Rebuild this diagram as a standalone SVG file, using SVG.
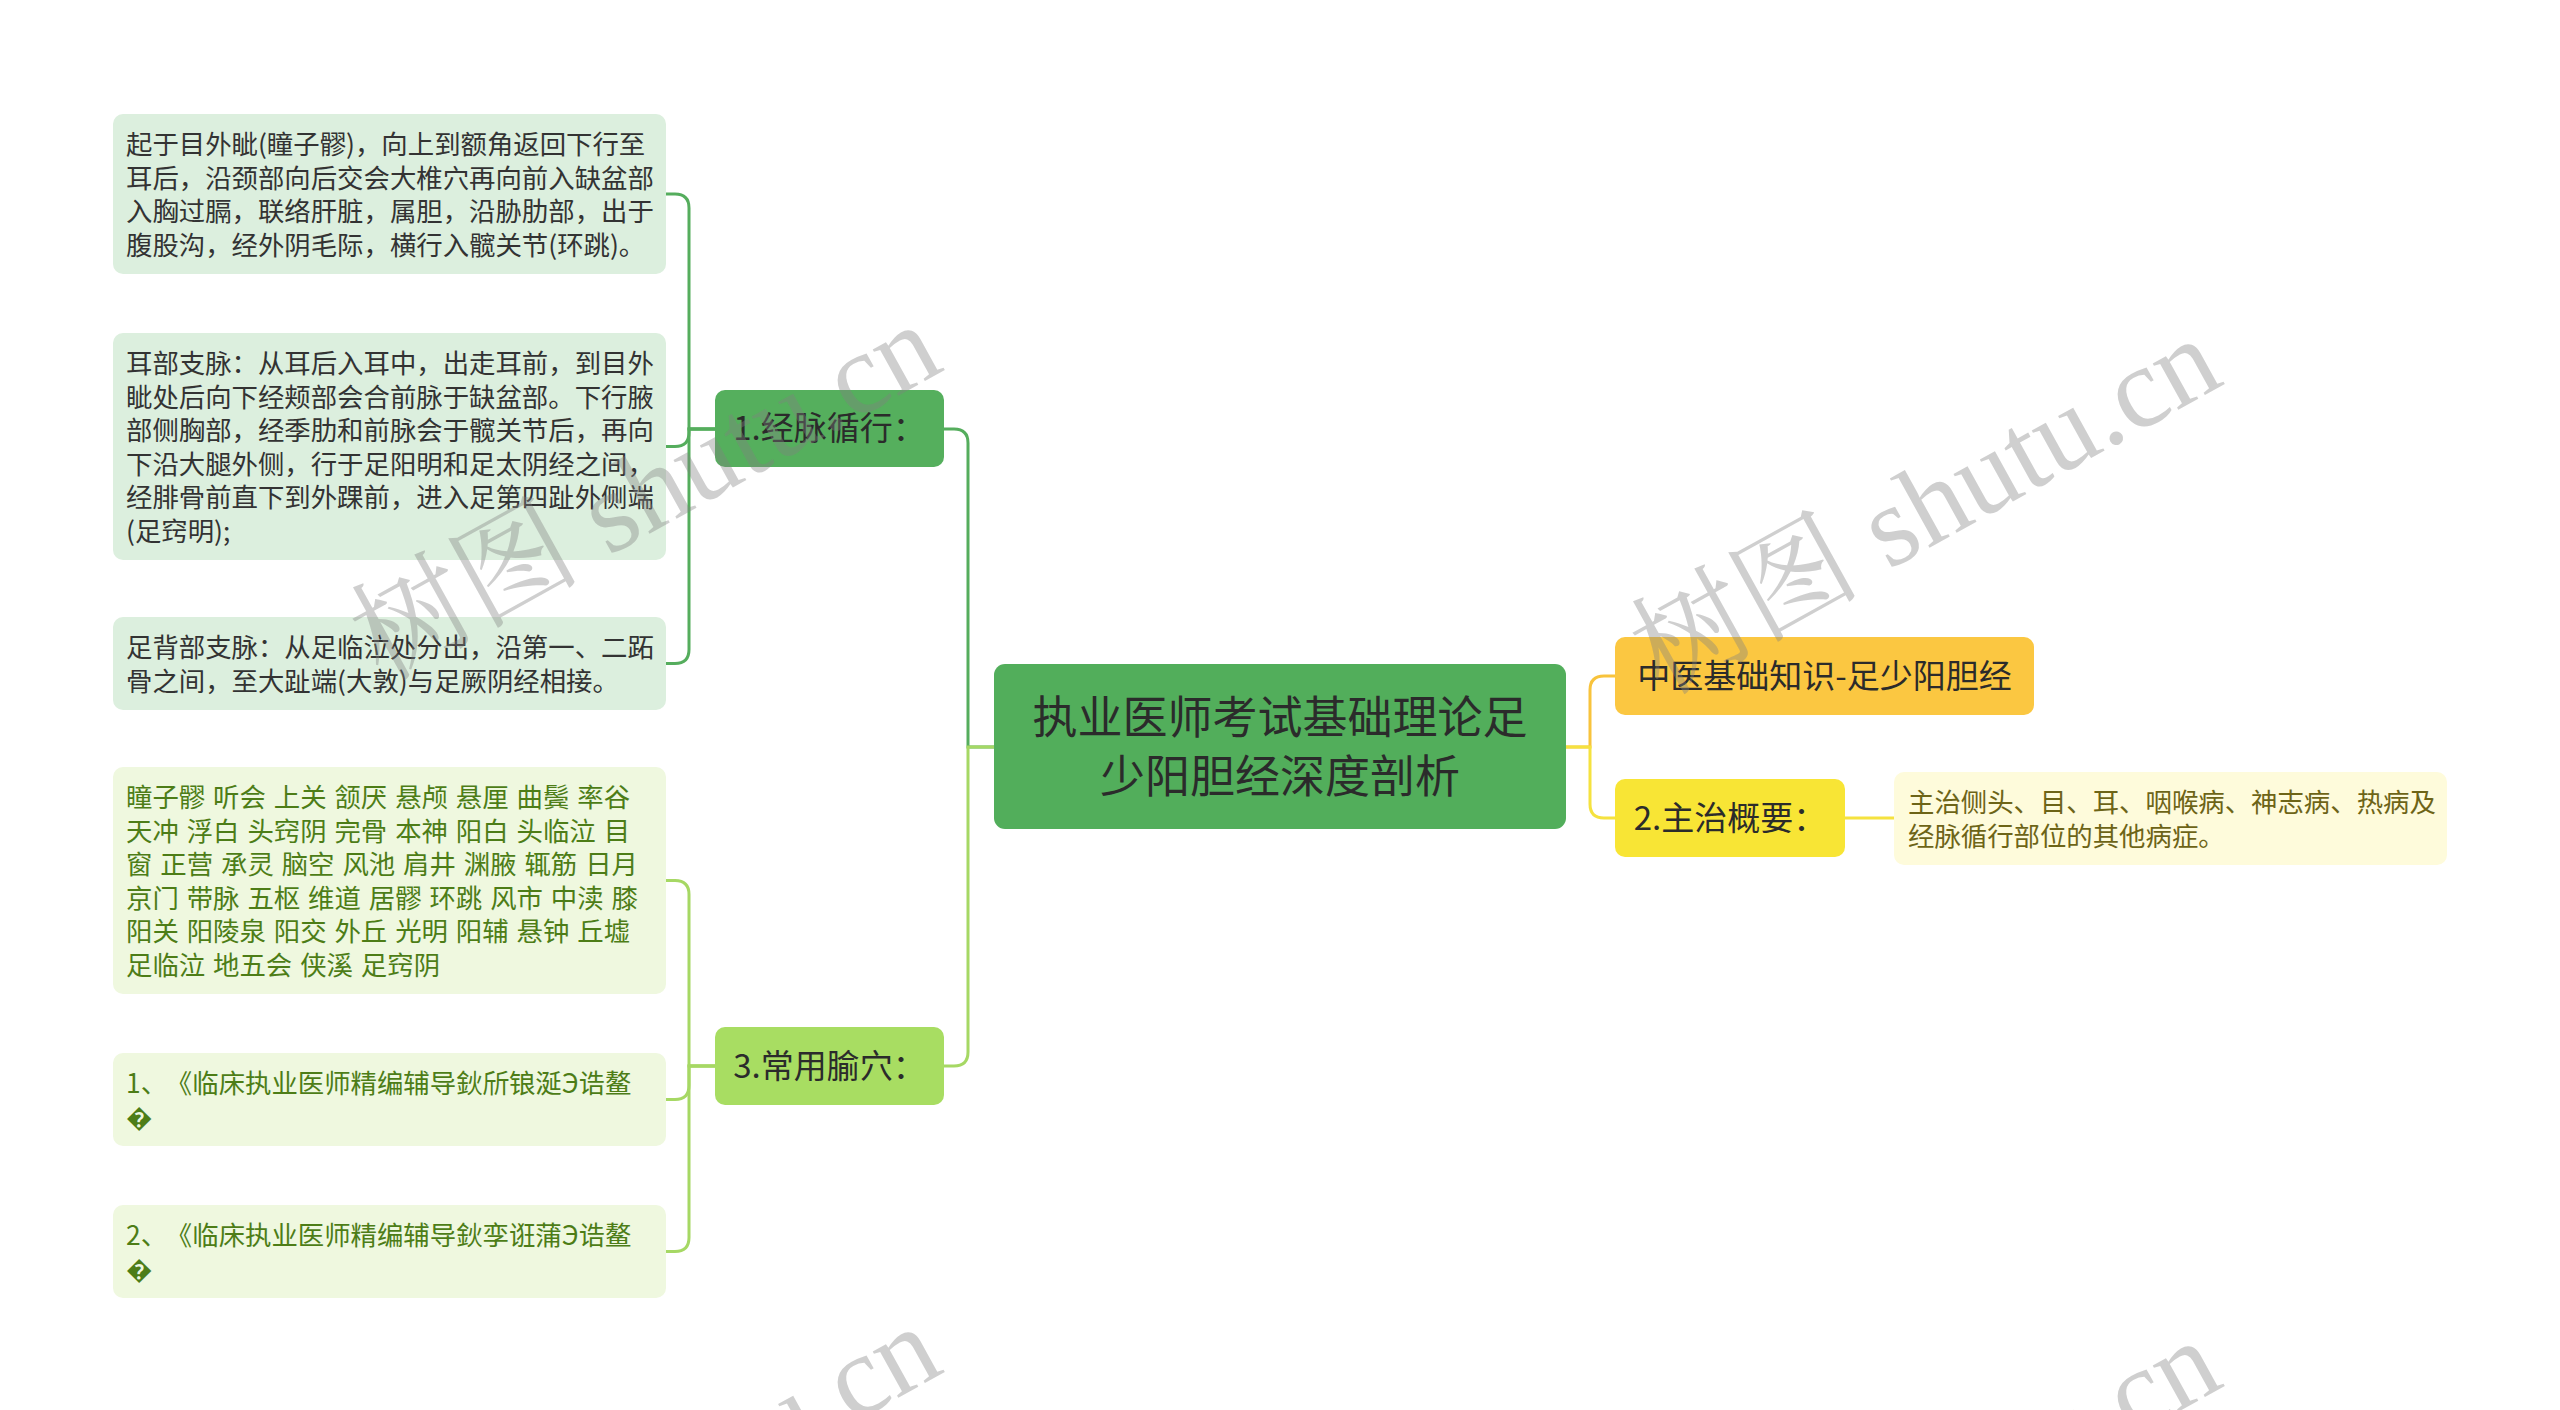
<svg xmlns="http://www.w3.org/2000/svg" width="2560" height="1410" viewBox="0 0 2560 1410">
<style>
text{font-family:"Noto Sans CJK SC","Noto Sans",sans-serif}
.root-t{font-size:45px;fill:#2b2b2b;text-anchor:middle}
.l1-t{font-size:33px;fill:#2b2b2b;text-anchor:middle}
.leaf-t{font-size:26.4px;fill:#333333}
.leaf2-t{font-size:26.4px;fill:#4d7d17}
.leaf3-t{font-size:26.4px;fill:#6d6417}
.ws{word-spacing:2px}
.lk{fill:none;stroke-width:3;stroke-linecap:round}
.wm{font-family:"Liberation Serif","Noto Serif CJK SC","Noto Sans CJK SC",serif;font-size:115px;fill:#808080;fill-opacity:0.38}
</style>
<rect width="2560" height="1410" fill="#ffffff"/>
<g id="connectors">
<path class="lk" stroke="#55ad5d" d="M994 747 H968 V443 Q968 429 954 429 H944"/>
<path class="lk" stroke="#a6d864" d="M994 747 H968 V1052 Q968 1066 954 1066 H944"/>
<path class="lk" stroke="#55ad5d" d="M715 429 H689 V208 Q689 194 675 194 H665"/>
<path class="lk" stroke="#55ad5d" d="M715 429 H689 V432.5 Q689 446.5 675 446.5 H665"/>
<path class="lk" stroke="#55ad5d" d="M715 429 H689 V649.5 Q689 663.5 675 663.5 H665"/>
<path class="lk" stroke="#a6d864" d="M715 1066 H689 V894.5 Q689 880.5 675 880.5 H665"/>
<path class="lk" stroke="#a6d864" d="M715 1066 H689 V1085.5 Q689 1099.5 675 1099.5 H665"/>
<path class="lk" stroke="#a6d864" d="M715 1066 H689 V1237.5 Q689 1251.5 675 1251.5 H665"/>
<path class="lk" stroke="#f8c33c" d="M1566 747 H1590 V690 Q1590 676 1604 676 H1615"/>
<path class="lk" stroke="#f5e23f" d="M1566 747 H1590 V804 Q1590 818 1604 818 H1615"/>
<path class="lk" stroke="#f5e23f" d="M1845 818 H1894"/>
</g>
<g id="root">
<rect x="994" y="664" width="572" height="165" rx="11" fill="#52ae5b"/>
<text class="root-t" x="1280" y="734">执业医师考试基础理论足</text>
<text class="root-t" x="1280" y="793">少阳胆经深度剖析</text>
</g>
<g id="n1">
<rect x="715" y="390" width="229" height="77" rx="10" fill="#55af5d"/>
<text class="l1-t" x="829.5" y="440">1.经脉循行：</text>
</g>
<g id="n3">
<rect x="715" y="1027" width="229" height="78" rx="10" fill="#a8dd62"/>
<text class="l1-t" x="829.5" y="1078">3.常用腧穴：</text>
</g>
<g id="n0">
<rect x="1615" y="637" width="419" height="78" rx="10" fill="#fbc741"/>
<text class="l1-t" x="1824.5" y="688">中医基础知识-足少阳胆经</text>
</g>
<g id="n2">
<rect x="1615" y="779" width="230" height="78" rx="10" fill="#f8e535"/>
<text class="l1-t" x="1730" y="830">2.主治概要：</text>
</g>
<g id="leafA">
<rect x="113" y="114" width="553" height="160" rx="10" fill="#dcefde"/>
<text class="leaf-t" x="126" y="154">起于目外眦(瞳子髎)，向上到额角返回下行至</text>
<text class="leaf-t" x="126" y="187.5">耳后，沿颈部向后交会大椎穴再向前入缺盆部</text>
<text class="leaf-t" x="126" y="221">入胸过膈，联络肝脏，属胆，沿胁肋部，出于</text>
<text class="leaf-t" x="126" y="254.5">腹股沟，经外阴毛际，横行入髋关节(环跳)。</text>
</g>
<g id="leafB">
<rect x="113" y="333" width="553" height="227" rx="10" fill="#dcefde"/>
<text class="leaf-t" x="126" y="373">耳部支脉：从耳后入耳中，出走耳前，到目外</text>
<text class="leaf-t" x="126" y="406.5">眦处后向下经颊部会合前脉于缺盆部。下行腋</text>
<text class="leaf-t" x="126" y="440">部侧胸部，经季肋和前脉会于髋关节后，再向</text>
<text class="leaf-t" x="126" y="473.5">下沿大腿外侧，行于足阳明和足太阴经之间，</text>
<text class="leaf-t" x="126" y="507">经腓骨前直下到外踝前，进入足第四趾外侧端</text>
<text class="leaf-t" x="126" y="540.5">(足窍明);</text>
</g>
<g id="leafC">
<rect x="113" y="617" width="553" height="93" rx="10" fill="#dcefde"/>
<text class="leaf-t" x="126" y="657">足背部支脉：从足临泣处分出，沿第一、二跖</text>
<text class="leaf-t" x="126" y="690.5">骨之间，至大趾端(大敦)与足厥阴经相接。</text>
</g>
<g id="leafD">
<rect x="113" y="767" width="553" height="227" rx="10" fill="#eff8df"/>
<text class="leaf2-t ws" x="126" y="807">瞳子髎 听会 上关 颔厌 悬颅 悬厘 曲鬓 率谷</text>
<text class="leaf2-t ws" x="126" y="840.5">天冲 浮白 头窍阴 完骨 本神 阳白 头临泣 目</text>
<text class="leaf2-t ws" x="126" y="874">窗 正营 承灵 脑空 风池 肩井 渊腋 辄筋 日月</text>
<text class="leaf2-t ws" x="126" y="907.5">京门 带脉 五枢 维道 居髎 环跳 风市 中渎 膝</text>
<text class="leaf2-t ws" x="126" y="941">阳关 阳陵泉 阳交 外丘 光明 阳辅 悬钟 丘墟</text>
<text class="leaf2-t ws" x="126" y="974.5">足临泣 地五会 侠溪 足窍阴</text>
</g>
<g id="leafE">
<rect x="113" y="1053" width="553" height="93" rx="10" fill="#eff8df"/>
<text class="leaf2-t" x="126" y="1093">1、<tspan dx="12">《临床执业医师精编辅导鈥斦锒涎Э诰鳌</tspan></text>
<text class="leaf2-t" x="126" y="1126.5">&#xFFFD;</text>
</g>
<g id="leafF">
<rect x="113" y="1205" width="553" height="93" rx="10" fill="#eff8df"/>
<text class="leaf2-t" x="126" y="1245">2、<tspan dx="12">《临床执业医师精编辅导鈥孪诳蒲Э诰鳌</tspan></text>
<text class="leaf2-t" x="126" y="1278.5">&#xFFFD;</text>
</g>
<g id="leafR">
<rect x="1894" y="772" width="553" height="93" rx="10" fill="#fefbdb"/>
<text class="leaf3-t" x="1908" y="812">主治侧头、目、耳、咽喉病、神志病、热病及</text>
<text class="leaf3-t" x="1908" y="845.5">经脉循行部位的其他病症。</text>
</g>
<g id="watermarks">
<text class="wm" transform="translate(382 682) rotate(-29)">树图 shutu.cn</text>
<text class="wm" transform="translate(1662 696) rotate(-29)">树图 shutu.cn</text>
<text class="wm" transform="translate(382 1684) rotate(-29)">树图 shutu.cn</text>
<text class="wm" transform="translate(1662 1698) rotate(-29)">树图 shutu.cn</text>
</g>
</svg>
